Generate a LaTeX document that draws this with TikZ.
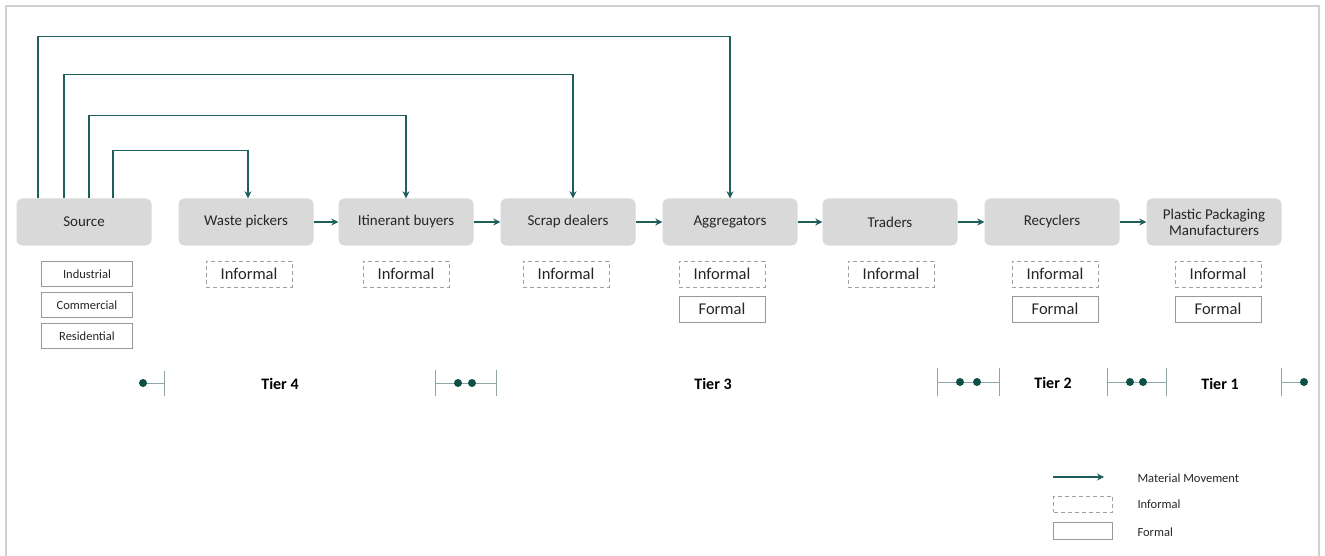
\documentclass[tikz,border=0pt]{standalone}
\usepackage{fontspec}
\setmainfont{Carlito}
\usetikzlibrary{arrows.meta}
\definecolor{boxgray}{HTML}{D9D9D9}
\definecolor{txt}{HTML}{262626}
\definecolor{flowteal}{HTML}{1F5F5B}
\definecolor{dotteal}{HTML}{0E5048}
\definecolor{barcol}{HTML}{8FA6A6}
\definecolor{framegray}{HTML}{D0D0D0}
\tikzset{
  stage/.style={rounded corners=6pt, fill=boxgray, minimum width=135pt, minimum height=47pt, align=center, inner sep=2pt, text=txt, font=\fontsize{15}{16}\selectfont},
  informalbox/.style={draw=gray!75, line width=1pt, dash pattern=on 4pt off 3pt, minimum width=86pt, minimum height=26pt, inner sep=0pt, text=txt, font=\fontsize{16.5}{18}\selectfont},
  formalbox/.style={draw=gray!80, line width=1pt, minimum width=86pt, minimum height=26pt, inner sep=0pt, text=txt, font=\fontsize{16.5}{18}\selectfont},
  srcbox/.style={draw=gray!80, line width=1pt, minimum width=91pt, minimum height=25pt, inner sep=0pt, text=txt, font=\fontsize{12.5}{14}\selectfont},
  flow/.style={draw=flowteal, line width=1.5pt, -{Stealth[length=7pt,width=7pt]}},
  tierbar/.style={draw=barcol, line width=1pt},
  tierdot/.style={circle, fill=dotteal, inner sep=0pt, minimum size=8pt},
  tierlabel/.style={font=\bfseries\fontsize{16}{18}\selectfont, text=black},
  legendtext/.style={anchor=west, text=txt, font=\fontsize{12.5}{14}\selectfont},
}
\begin{document}
\begin{tikzpicture}[x=1pt,y=-1pt]
\useasboundingbox (0,0) rectangle (1325,556);
% frame
\draw[framegray, line width=1.5pt] (6,556) -- (6,6) -- (1319,6) -- (1319,556);

% stages
\node[stage] (src) at (84,222) {Source};
\node[stage] (wp)  at (246,222) {Waste pickers};
\node[stage] (ib)  at (406,222) {Itinerant buyers};
\node[stage] (sd)  at (568,222) {Scrap dealers};
\node[stage] (agg) at (730,222) {Aggregators};
\node[stage] (tr)  at (890,222) {Traders};
\node[stage] (rec) at (1052,222) {Recyclers};
\node[stage] (ppm) at (1214,222) {Plastic Packaging\\Manufacturers};

% horizontal flows
\draw[flow] (wp.east) -- (ib.west);
\draw[flow] (ib.east) -- (sd.west);
\draw[flow] (sd.east) -- (agg.west);
\draw[flow] (agg.east) -- (tr.west);
\draw[flow] (tr.east) -- (rec.west);
\draw[flow] (rec.east) -- (ppm.west);

% top flows from source
\draw[flow] ([xshift=-46pt]src.north) -- ++(0,-162) -| (agg.north);
\draw[flow] ([xshift=-20pt]src.north) -- ++(0,-124) -| ([xshift=5pt]sd.north);
\draw[flow] ([xshift=5pt]src.north) -- ++(0,-83) -| (ib.north);
\draw[flow] ([xshift=29pt]src.north) -- ++(0,-48) -| ([xshift=2pt]wp.north);

% source categories
\node[srcbox] (ind) at (87,274) {Industrial};
\node[srcbox] (com) at (87,305) {Commercial};
\node[srcbox] (res) at (87,336) {Residential};

% informal / formal
\node[informalbox] (wpi) at (249,274) {Informal};
\node[informalbox] (ibi) at (406,274) {Informal};
\node[informalbox] (sdi) at (566,274) {Informal};
\node[informalbox] (aggi) at (722,274) {Informal};
\node[formalbox] (aggf) at (722,309) {Formal};
\node[informalbox] (tri) at (891,274) {Informal};
\node[informalbox] (reci) at (1055,274) {Informal};
\node[formalbox] (recf) at (1055,309) {Formal};
\node[informalbox] (ppmi) at (1218,274) {Informal};
\node[formalbox] (ppmf) at (1218,309) {Formal};

% tiers
\draw[tierbar] (164,371) -- (164,396);
\draw[tierbar] (140,383) -- (164,383);
\node[tierdot] at (143,383) {};

\draw[tierbar] (435,370) -- (435,396);
\draw[tierbar] (496,370) -- (496,396);
\draw[tierbar] (435,383) -- (496,383);
\node[tierdot] at (458,383) {};
\node[tierdot] at (472,383) {};

\draw[tierbar] (937,368) -- (937,396);
\draw[tierbar] (999,368) -- (999,396);
\draw[tierbar] (937,382) -- (999,382);
\node[tierdot] at (960,382) {};
\node[tierdot] at (977,382) {};

\draw[tierbar] (1107,368) -- (1107,396);
\draw[tierbar] (1166,368) -- (1166,396);
\draw[tierbar] (1107,382) -- (1166,382);
\node[tierdot] at (1130,382) {};
\node[tierdot] at (1143,382) {};

\draw[tierbar] (1281,368) -- (1281,396);
\draw[tierbar] (1281,382) -- (1306,382);
\node[tierdot] at (1304,382) {};

\node[tierlabel] (t4) at (280,384) {Tier 4};
\node[tierlabel] (t3) at (713,384) {Tier 3};
\node[tierlabel] (t2) at (1053,383) {Tier 2};
\node[tierlabel] (t1) at (1220,384) {Tier 1};

% legend
\coordinate (la) at (1053,477);
\coordinate (lb) at (1104,477);
\draw[flow] (la) -- (lb);
\node[legendtext] (lm) at (1134,478) {Material Movement};
\node[informalbox, minimum width=59pt, minimum height=16pt] (li) at (1083,504) {};
\node[legendtext] (lit) at (1134,504) {Informal};
\node[formalbox, minimum width=59pt, minimum height=17pt] (lf) at (1083,531) {};
\node[legendtext] (lft) at (1134,532) {Formal};
\end{tikzpicture}
\end{document}
